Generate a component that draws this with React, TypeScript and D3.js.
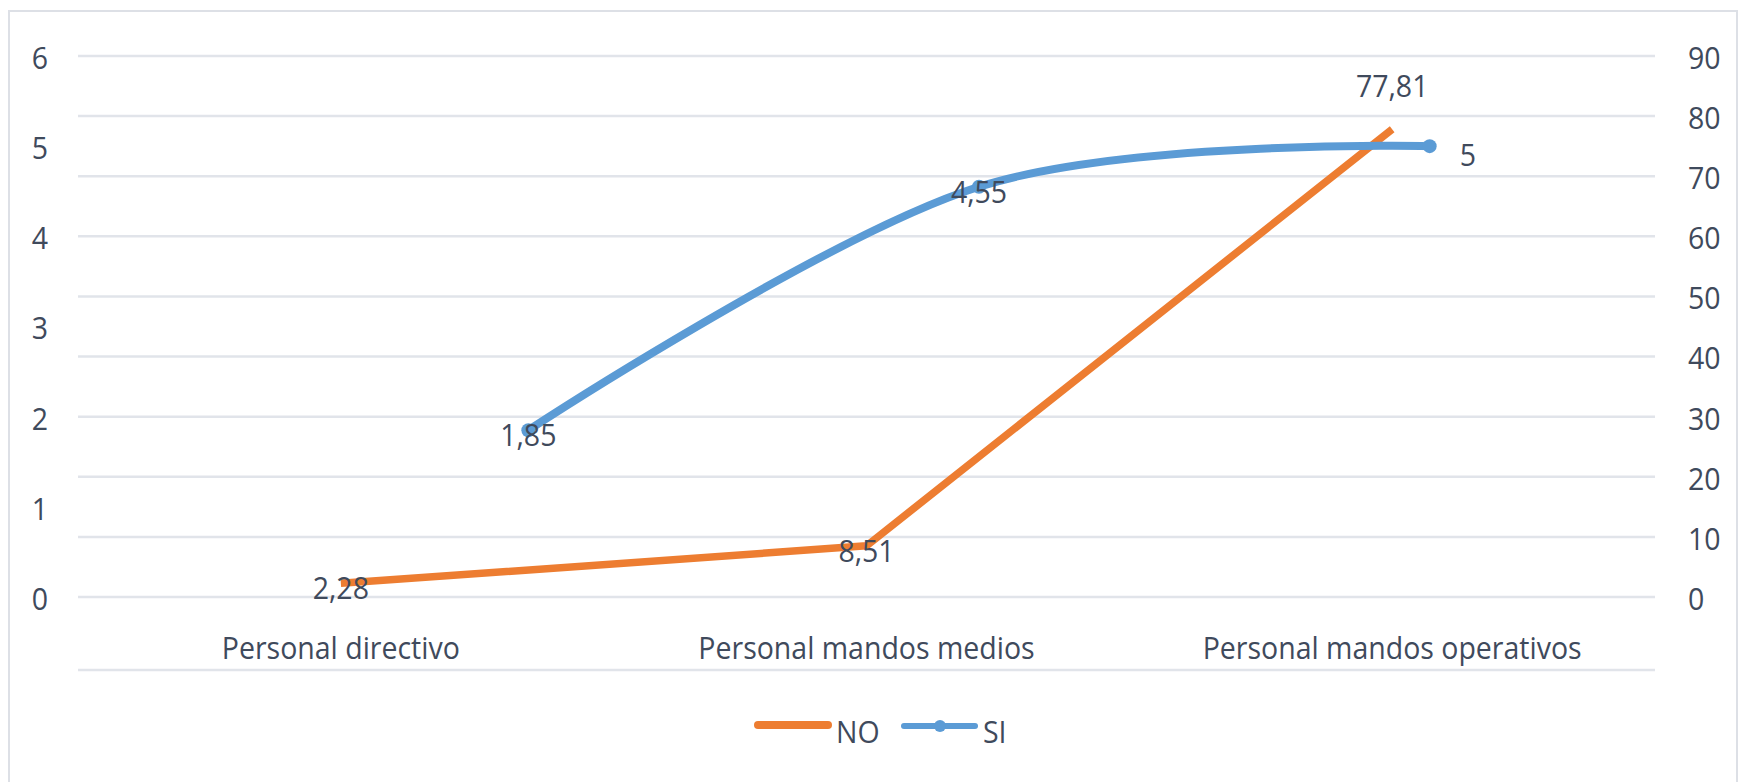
import React from 'react';
import * as d3 from 'd3';

const categories = ['Personal directivo', 'Personal mandos medios', 'Personal mandos operativos'];
const noValues = [2.28, 8.51, 77.81];
const siValues = [1.85, 4.55, 5];
const leftTicks = [0, 1, 2, 3, 4, 5, 6];
const rightTicks = [0, 10, 20, 30, 40, 50, 60, 70, 80, 90];
const noLabelPos = ['center', 'center', 'above'];
const siLabelPos = ['center', 'center', 'right'];

const W = 1749;
const H = 782;
const TEXT = '#3f4a5c';
const GRID = '#e1e4ea';
const ORANGE = '#ed7d31';
const BLUE = '#5b9bd5';
const FONT = '"Open Sans", Lato, sans-serif';

const fmt = (v: number) => String(v).replace('.', ',');

// text slightly stretched vertically, the source picture is taller than wide
const T: React.FC<{ x: number; y: number; anchor?: string; children: React.ReactNode }> = ({
  x,
  y,
  anchor = 'middle',
  children
}) => (
  <text
    transform={`translate(${x},${y}) scale(1,1.07)`}
    textAnchor={anchor}
    dominantBaseline="central"
    fill={TEXT}
    fontFamily={FONT}
    fontSize={28.5}
  >
    {children}
  </text>
);

const App: React.FC = () => {
  const plotLeft = 78;
  const plotRight = 1655;
  const plotTop = 56;
  const plotBottom = 597;

  const xNo = d3.scaleBand().domain(categories).range([plotLeft, plotRight]);
  const xSi = d3.scaleBand().domain(categories).range([303, plotRight]);
  const cx = (s: d3.ScaleBand<string>, c: string) => (s(c) || 0) + s.bandwidth() / 2;

  const yLeft = d3.scaleLinear().domain([0, 6]).range([plotBottom, plotTop]);
  const yRight = d3.scaleLinear().domain([0, 90]).range([plotBottom, plotTop]);

  const noPts: [number, number][] = noValues.map((v, i) => [cx(xNo, categories[i]), yRight(v)]);
  const siPts: [number, number][] = siValues.map((v, i) => [cx(xSi, categories[i]), yLeft(v)]);

  const straight = d3.line();
  const smooth = d3.line().curve(d3.curveCardinal.tension(0));

  const labelXY = (p: [number, number], pos: string): [number, number, string] => {
    if (pos === 'above') return [p[0], p[1] - 44, 'middle'];
    if (pos === 'right') return [p[0] + 30, p[1] + 8, 'start'];
    return [p[0], p[1] + 4, 'middle'];
  };

  return (
    <svg
      width={W}
      height={H}
      style={{ position: 'absolute', left: 0, top: 0, background: '#fff' }}
    >
      <rect x={9} y={11} width={1728} height={790} fill="#fff" stroke="#dde0e6" strokeWidth={2} />

      {/* gridlines */}
      {rightTicks.map(t => (
        <line key={t} x1={plotLeft} x2={plotRight} y1={yRight(t)} y2={yRight(t)} stroke={GRID} strokeWidth={2.5} />
      ))}
      <line x1={plotLeft} x2={plotRight} y1={670} y2={670} stroke={GRID} strokeWidth={2.5} />

      {/* axes labels */}
      {leftTicks.map(t => (
        <T key={t} x={48} y={yLeft(t) + 1} anchor="end">{t}</T>
      ))}
      {rightTicks.map(t => (
        <T key={t} x={1688} y={yRight(t) + 1} anchor="start">{t}</T>
      ))}
      {categories.map(c => (
        <T key={c} x={cx(xNo, c)} y={647}>{c}</T>
      ))}

      {/* series */}
      <path d={straight(noPts) || ''} fill="none" stroke={ORANGE} strokeWidth={7.5} strokeLinejoin="round" />
      <path d={smooth(siPts) || ''} fill="none" stroke={BLUE} strokeWidth={8} strokeLinecap="round" />
      {siPts.map((p, i) => (
        <circle key={i} cx={p[0]} cy={p[1]} r={7} fill={BLUE} />
      ))}

      {/* data labels */}
      {noPts.map((p, i) => {
        const [x, y, a] = labelXY(p, noLabelPos[i]);
        return <T key={'n' + i} x={x} y={y} anchor={a}>{fmt(noValues[i])}</T>;
      })}
      {siPts.map((p, i) => {
        const [x, y, a] = labelXY(p, siLabelPos[i]);
        return <T key={'s' + i} x={x} y={y} anchor={a}>{fmt(siValues[i])}</T>;
      })}

      {/* legend */}
      <line x1={758} x2={828} y1={725} y2={725} stroke={ORANGE} strokeWidth={8} strokeLinecap="round" />
      <T x={836} y={731} anchor="start">NO</T>
      <line x1={904} x2={975} y1={726} y2={726} stroke={BLUE} strokeWidth={6} strokeLinecap="round" />
      <circle cx={940} cy={726} r={6} fill={BLUE} />
      <T x={983} y={731} anchor="start">SI</T>
    </svg>
  );
};

export default App;
